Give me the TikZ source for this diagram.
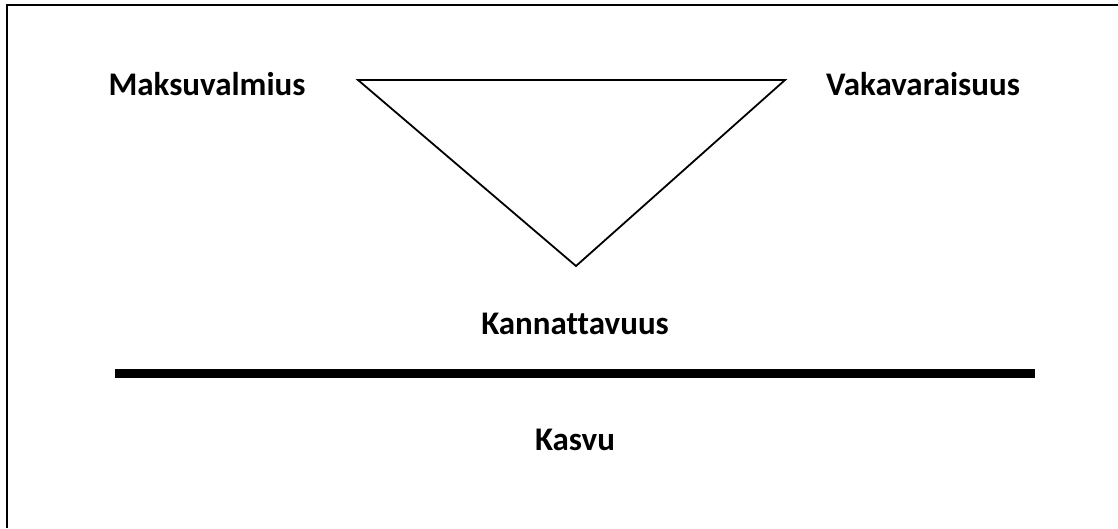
\documentclass[tikz,border=0pt]{standalone}
\usepackage{fontspec}
\setmainfont[Ligatures={NoCommon}]{Carlito}
\begin{document}
\begin{tikzpicture}[x=1pt,y=-1pt,
  lbl/.style={font=\fontsize{33}{36}\selectfont\bfseries, inner sep=0pt, anchor=center},
  frame/.style={line width=2.5pt},
  tri/.style={line width=1.8pt, line join=miter},
  bar/.style={line width=8.5pt}]
\useasboundingbox (0,0) rectangle (1118,528);
\coordinate (fl) at (7,528);
\coordinate (ftl) at (7,5);
\coordinate (fr) at (1118,5);
\draw[frame] (fl) -- (ftl) -- (fr);
\coordinate (t1) at (358,80);
\coordinate (t2) at (785,80);
\coordinate (t3) at (576,266);
\draw[tri] (t1) -- (t2) -- (t3) -- cycle;
\coordinate (b1) at (115,373.5);
\coordinate (b2) at (1035,373.5);
\draw[bar] (b1) -- (b2);
\node[lbl] (m) at (207,84) {Maksuvalmius};
\node[lbl] (v) at (923,84) {Vakavaraisuus};
\node[lbl] (k) at (575,324) {Kannattavuus};
\node[lbl] (ka) at (575,440) {Kasvu};
\end{tikzpicture}
\end{document}
